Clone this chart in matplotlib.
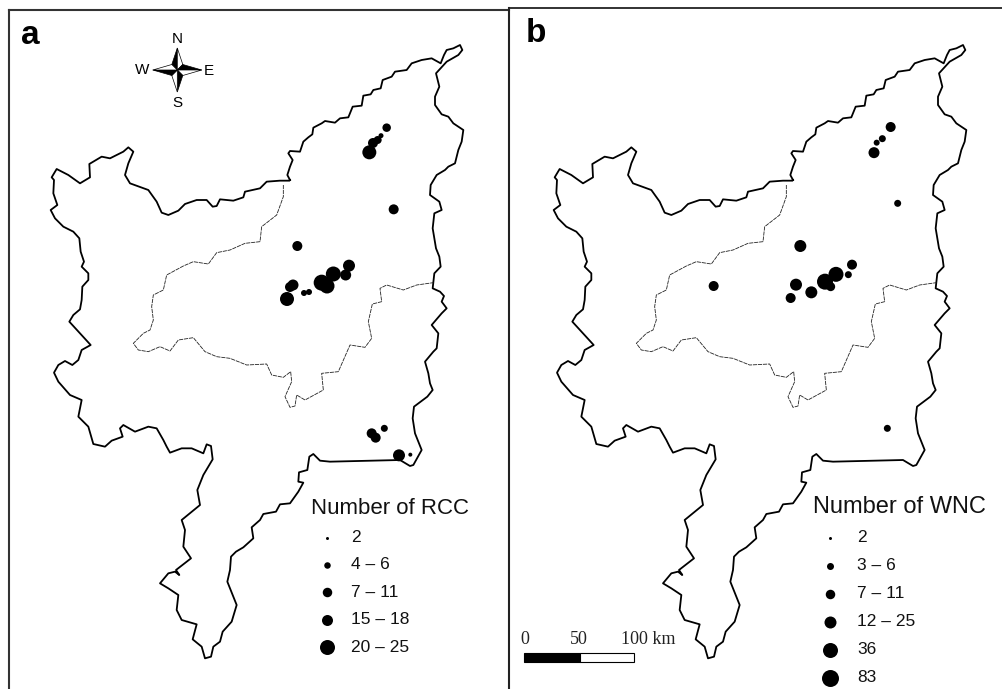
import matplotlib
matplotlib.use("Agg")
import matplotlib.pyplot as plt
import numpy as np
from matplotlib.patches import Polygon, Rectangle

plt.rcParams['font.family'] = ['Liberation Sans', 'DejaVu Sans']

# ---------------------------------------------------
# map outline read off crops of the picture, pieces go clockwise (crop units = px x3)
ne_origin = (280, 35)
ne_x = [30,22,30,38,25,30,60,70,85,97,100,125,135,165,180,205,218,245,250,272,280,302,308,335,345,380,395,425,455,482,492,500,520,540,547,535,500,468,478,465,465,485,505,520,550,545,535,525,505]
ne_y = [435,420,395,375,355,348,350,320,307,298,278,265,258,263,250,247,215,212,182,178,165,160,135,125,110,105,85,75,70,85,60,45,40,30,45,60,80,115,155,185,210,238,245,265,285,320,345,385,395]

east_origin = (400, 170)
east_x = [135,110,92,90,118,125,103,98,108,118,122,103,98,120,132,125,140,125,95,115,110,100,75,85,90,98,82,42,38,45,65,40,30,0]
east_y = [0,15,45,75,95,120,130,175,235,260,290,310,355,365,378,395,415,430,465,490,535,545,575,610,640,660,680,710,745,790,840,885,888,870]

south_origin = (150, 440)
south_x = [540,510,490,478,472,447,445,460,445,420,390,378,340,330,305,310,280,258,243,240,232,248,260,245,218,210,190,183,165,155,128,140,95,80,85,55,30,55,75,88,78,123,100,105,95,150,142,160,188,183,170,160,125,95,60,50,40]
south_y = [65,62,42,50,90,97,125,128,155,190,193,215,222,240,262,295,322,335,350,390,425,465,495,545,575,605,620,650,655,620,598,553,540,510,465,445,430,400,395,405,390,355,320,270,240,195,150,105,58,18,13,40,25,25,38,20,0]

west_origin = (40, 250)
west_x = [350,325,285,250,240,248,215,195,160,145,115,125,90,55,42,55,75,97,115,125,152,120,97,88,100,120,125,127,145,145,125,132,122]
west_y = [535,530,545,525,535,560,572,590,582,530,500,450,435,395,368,345,333,345,330,300,285,250,225,215,195,178,150,110,90,70,50,35,5]

nw_origin = (40, 140)
nw_x = [118,100,70,45,32,52,40,42,35,50,85,120,150,148,185,210,250,265,280,265,255,270,325,350,365,385,415,435,470,500,518,530,540,580,610,615,660,680,720,748]
nw_y = [295,275,260,235,210,195,160,120,112,87,105,130,112,72,50,55,35,22,35,70,105,130,150,185,218,225,212,192,180,180,200,198,178,182,172,155,145,125,122,122]

# inner boundary
inner_origin = (120, 170)
inner_x = [490,490,470,425,420,375,330,290,265,220,190,140,130,100,95,100,90,70,40,55,85,120,150,175,220,255,290,330,380,440,455,490,512,515,495,510,525,530,555,610,605,655,690,735,755,745,757,785,780,800,850,890,940]
inner_y = [45,80,135,170,215,220,240,248,282,275,288,315,360,375,410,450,480,490,520,540,545,530,543,510,503,545,560,565,585,582,615,622,605,635,680,712,708,675,690,660,610,605,525,532,505,455,402,395,355,345,360,345,338]

# site dots, px x3, diameter in px
rcc_x = [1160,1143,1133,1119,1108,1181,892,1047,1037,1000,965,981,879,870,861,927,912,1115,1127,1153,1197,1231]
rcc_y = [383,407,420,429,457,628,738,797,825,822,848,858,855,861,897,876,879,1300,1313,1285,1366,1364]
rcc_d = [8.5,5,8,10,14,10,10,12,11,15,16,15,11,10,14,6,6,10,10,7,12,4]

wnc_x = [1172,1147,1130,1122,1193,901,1056,1045,1008,975,992,888,934,872,641,1162]
wnc_y = [381,416,428,458,610,738,794,824,823,845,860,854,877,894,858,1285]
wnc_d = [10,7,6,11,7,12,10,7,15,16,9,12,12,10,10,7]

# legends
rcc_labels = ['2', '4 – 6', '7 – 11', '15 – 18', '20 – 25']
rcc_sizes = [3, 6.5, 9.5, 11, 15]
wnc_labels = ['2', '3 – 6', '7 – 11', '12 – 25', '36', '83']
wnc_sizes = [3, 7, 9.5, 12, 15, 17]


def join_pieces(pieces):
    xs, ys = [], []
    for (ox, oy), px, py in pieces:
        xs += [ox + v / 3 for v in px]
        ys += [oy + v / 3 for v in py]
    return np.array(xs + xs[:1]), np.array(ys + ys[:1])


outline = join_pieces([(ne_origin, ne_x, ne_y), (east_origin, east_x, east_y),
                       (south_origin, south_x, south_y), (west_origin, west_x, west_y),
                       (nw_origin, nw_x, nw_y)])
inner = join_pieces([(inner_origin, inner_x, inner_y)])

fig = plt.figure(figsize=(10.02, 6.89), dpi=100)
ax = fig.add_axes([0, 0, 1, 1])
ax.set_xlim(0, 1002)
ax.set_ylim(689, 0)
ax.axis('off')


def px2pt(d):
    return (np.array(d) * 0.72) ** 2


def draw_map(dx):
    ax.plot(outline[0] + dx, outline[1], color='k', lw=1.3, solid_joinstyle='round')
    ax.plot(inner[0][:-1] + dx, inner[1][:-1], color='#222222', lw=0.6, ls=(0, (5, 1)))


draw_map(0)
draw_map(503)

ax.scatter(np.array(rcc_x) / 3, np.array(rcc_y) / 3, s=px2pt(rcc_d), c='k', lw=0)
ax.scatter(np.array(wnc_x) / 3 + 500, np.array(wnc_y) / 3, s=px2pt(wnc_d), c='k', lw=0)

# frame
ax.plot([9.5, 9.5], [689, 9.5], color='#333333', lw=1.5)
ax.plot([9.5, 509], [9.5, 9.5], color='#333333', lw=1.5)
ax.plot([509, 1002], [8, 8], color='#222222', lw=1.3)
ax.plot([509, 509], [8, 689], color='#222222', lw=1.5)

ax.text(21, 44, 'a', fontsize=24, fontweight='bold', ha='left', va='baseline')
ax.text(526, 42, 'b', fontsize=24, fontweight='bold', ha='left', va='baseline')

# legend a
ax.text(311, 508, 'Number of RCC', fontsize=16, ha='left', va='center', color='#111111')
for i, (lab, d) in enumerate(zip(rcc_labels, rcc_sizes)):
    y = 537.5 + i * 27.4
    ax.scatter([326.7], [y], s=px2pt(d), c='k', lw=0)
    ax.text(351, y, lab, fontsize=12.5, ha='left', va='center', color='#111111')

# legend b
ax.text(813, 507, 'Number of WNC', fontsize=17, ha='left', va='center', color='#111111')
for i, (lab, d) in enumerate(zip(wnc_labels, wnc_sizes)):
    y = 537.5 + i * 28
    ax.scatter([830], [y], s=px2pt(d), c='k', lw=0)
    ax.text(857, y, lab, fontsize=12.5, ha='left', va='center', color='#111111')

# scale bar
ax.add_patch(Rectangle((524.5, 653), 55.5, 9, fc='k', ec='k', lw=0.8))
ax.add_patch(Rectangle((580, 653), 54, 9, fc='w', ec='k', lw=0.8))
for x, lab, ha in [(525, '0', 'center'), (579, '50', 'center'), (621, '100 km', 'left')]:
    ax.text(x, 640, lab, fontsize=13, family='Liberation Serif', ha=ha, va='center', color='#222222')

# compass
cx, cy = 177.3, 70
for k, tip in enumerate([22, 24.5, 22, 24.5]):
    arm = [(0, -tip), (-5.5, -5.5), (0, 0), (5.5, -5.5)]
    t = np.pi / 2 * k
    c, s = np.cos(t), np.sin(t)
    r = [(cx + a * c - b * s, cy + a * s + b * c) for a, b in arm]
    ax.add_patch(Polygon([r[0], r[1], r[2]], fc='k', ec='k', lw=0.5))
    ax.add_patch(Polygon([r[0], r[2], r[3]], fc='w', ec='k', lw=0.5))
for x, y, lab in [(177, 39, 'N'), (177, 103, 'S'), (142, 70, 'W'), (209, 71, 'E')]:
    ax.text(x, y, lab, fontsize=11, ha='center', va='center')

fig.savefig('out.png', dpi=100)
